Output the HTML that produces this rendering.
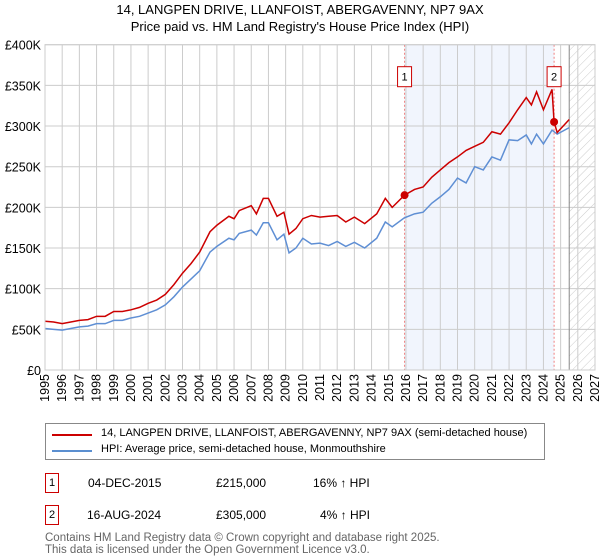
<!DOCTYPE html>
<html><head><meta charset="utf-8"><style>
body{margin:0;background:#fff;font-family:"Liberation Sans","DejaVu Sans",sans-serif;}
#wrap{position:relative;width:600px;height:560px;overflow:hidden;}
.t{position:absolute;font-size:12px;color:#000;white-space:nowrap;}
</style></head><body><div id="wrap">
<svg id="chart" width="600" height="420" style="position:absolute;left:0;top:0">
<defs><pattern id="hatch" width="6" height="6" patternUnits="userSpaceOnUse" patternTransform="rotate(45)"><line x1="0" y1="0" x2="0" y2="6" stroke="#ccc" stroke-width="1"/></pattern></defs>
<text x="300" y="14" text-anchor="middle" font-size="13">14, LANGPEN DRIVE, LLANFOIST, ABERGAVENNY, NP7 9AX</text>
<text x="300" y="31" text-anchor="middle" font-size="13">Price paid vs. HM Land Registry's House Price Index (HPI)</text>
<g id="g"></g>
</svg>
<div style="position:absolute;left:45px;top:423px;width:500px;height:37px;border:1px solid #888;box-sizing:border-box;">
<div style="position:absolute;left:6px;top:10px;width:40px;height:2px;background:#cc0000"></div>
<div class="t" style="left:55px;top:3px;font-size:11px">14, LANGPEN DRIVE, LLANFOIST, ABERGAVENNY, NP7 9AX (semi-detached house)</div>
<div style="position:absolute;left:6px;top:26px;width:40px;height:2px;background:#5b8fd0"></div>
<div class="t" style="left:55px;top:19px;font-size:11px">HPI: Average price, semi-detached house, Monmouthshire</div>
</div>
<div style="position:absolute;left:45px;top:473px;width:14px;height:20px;border:1px solid #cc0000;box-sizing:border-box;font-size:11px;text-align:center;line-height:18px">1</div>
<div class="t" style="left:88px;top:476px">04-DEC-2015</div>
<div class="t" style="left:216px;top:476px">£215,000</div>
<div class="t" style="left:313px;top:476px">16% ↑ HPI</div>
<div style="position:absolute;left:45px;top:505px;width:14px;height:20px;border:1px solid #cc0000;box-sizing:border-box;font-size:11px;text-align:center;line-height:18px">2</div>
<div class="t" style="left:87px;top:508px">16-AUG-2024</div>
<div class="t" style="left:216px;top:508px">£305,000</div>
<div class="t" style="left:320px;top:508px">4% ↑ HPI</div>
<div class="t" style="left:45px;top:532px;color:#666;font-size:11.5px;line-height:12px">Contains HM Land Registry data © Crown copyright and database right 2025.<br>This data is licensed under the Open Government Licence v3.0.</div>
</div>
<script>
const yTicks=[0,50,100,150,200,250,300,350,400];
const yTickLabels=["£0","£50K","£100K","£150K","£200K","£250K","£300K","£350K","£400K"];
const xYears=[1995,1996,1997,1998,1999,2000,2001,2002,2003,2004,2005,2006,2007,2008,2009,2010,2011,2012,2013,2014,2015,2016,2017,2018,2019,2020,2021,2022,2023,2024,2025,2026,2027];
const hpiDates=[1995,1995.5,1996,1996.5,1997,1997.5,1998,1998.5,1999,1999.5,2000,2000.5,2001,2001.5,2002,2002.5,2003,2003.5,2004,2004.6,2005,2005.7,2006,2006.3,2007,2007.3,2007.7,2008,2008.5,2008.9,2009.2,2009.6,2010,2010.5,2011,2011.5,2012,2012.5,2013,2013.6,2014.3,2014.8,2015.2,2015.9,2016.5,2017,2017.5,2018,2018.5,2019,2019.5,2020,2020.5,2021,2021.5,2022,2022.5,2023,2023.3,2023.6,2024,2024.5,2024.8,2025.5];
const hpiValues=[51,50,49,51,53,54,57,57,61,61,64,66,70,74,80,90,102,112,122,145,152,162,160,168,172,166,181,181,160,167,144,150,162,155,156,153,158,152,157,150,162,182,176,187,192,194,205,213,222,236,230,250,246,262,258,283,282,289,278,290,278,295,290,298];
const priceDates=[1995,1995.5,1996,1996.5,1997,1997.5,1998,1998.5,1999,1999.5,2000,2000.5,2001,2001.5,2002,2002.5,2003,2003.5,2004,2004.6,2005,2005.7,2006,2006.3,2007,2007.3,2007.7,2008,2008.5,2008.9,2009.2,2009.6,2010,2010.5,2011,2011.5,2012,2012.5,2013,2013.6,2014.3,2014.8,2015.2,2015.92,2016.5,2017,2017.5,2018,2018.5,2019,2019.5,2020,2020.5,2021,2021.5,2022,2022.5,2023,2023.3,2023.6,2024,2024.5,2024.62,2024.8,2025.5];
const priceValues=[60,59,57,59,61,62,66,66,72,72,74,77,82,86,93,105,119,131,145,170,178,189,186,196,202,192,211,211,189,194,167,174,186,190,188,189,190,182,188,180,192,211,200,215,222,225,237,246,255,262,270,275,280,293,290,304,320,335,326,342,320,345,305,292,308];
const sales=[{d:2015.92,v:215,n:"1"},{d:2024.62,v:305,n:"2"}];
const L=45,R=595,T=44.7,B=370;
const x=d=>L+(d-1995)*(R-L)/32;
const y=v=>B-v*(B-T)/400;
const NS="http://www.w3.org/2000/svg",g=document.getElementById("g");
function mk(t,a,p){const e=document.createElementNS(NS,t);for(const k in a)e.setAttribute(k,a[k]);(p||g).appendChild(e);return e;}
let e;
e=mk("rect",{x:x(2015.92),y:T,width:x(2024.62)-x(2015.92),height:B-T,fill:"#eef3fc",opacity:0.8});


e=mk("rect",{x:x(2025.5),y:T,width:R-x(2025.5),height:B-T,fill:"url(#hatch)"});


yTicks.forEach((v,i)=>{
 e=mk("line",{x1:L,x2:R,y1:y(v),y2:y(v),stroke:"#ccc"});
 
 
 e=mk("text",{x:L-4,y:y(v)+5,"text-anchor":"end","font-size":"12.5"});e.textContent=yTickLabels[i];
 
 
});
xYears.forEach(yr=>{
 e=mk("line",{x1:x(yr),x2:x(yr),y1:T,y2:B,stroke:"#ccc"});
 
 
 e=mk("text",{transform:`translate(${x(yr)+4},${B+4}) rotate(-90)`,"text-anchor":"end","font-size":"12.5"});e.textContent=yr;
 
 
});
e=mk("line",{x1:x(2025.5),x2:x(2025.5),y1:T,y2:B,stroke:"#888"});


sales.forEach(s=>{
 e=mk("line",{x1:x(s.d),x2:x(s.d),y1:T,y2:B,stroke:"#f08080","stroke-dasharray":"2,2"});
 
 
});
e=mk("polyline",{points:hpiDates.map((d,i)=>x(d)+","+y(hpiValues[i])).join(" "),fill:"none",stroke:"#5f8fd4","stroke-width":1.5});


e=mk("polyline",{points:priceDates.map((d,i)=>x(d)+","+y(priceValues[i])).join(" "),fill:"none",stroke:"#cc0000","stroke-width":1.5});


sales.forEach(s=>{
 e=mk("circle",{cx:x(s.d),cy:y(s.v),r:4,fill:"#cc0000"});
 
 
 e=mk("rect",{x:x(s.d)-7,y:T+22,width:14,height:20,fill:"#fff",stroke:"#cc0000"});
 
 
 e=mk("text",{x:x(s.d),y:T+36,"text-anchor":"middle","font-size":"11"});e.textContent=s.n;
 
 
});
e=mk("rect",{x:L,y:T,width:R-L,height:B-T,fill:"none",stroke:"#ccc"});


</script>
</body></html>
